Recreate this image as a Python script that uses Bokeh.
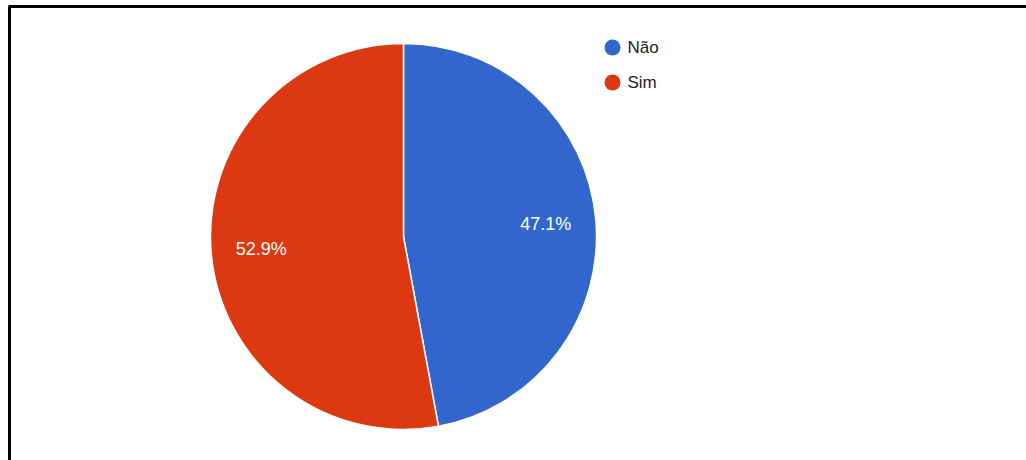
import math
from bokeh.plotting import figure
from bokeh.models import Range1d, ColumnDataSource
from bokeh.core.properties import value
from bokeh.embed import file_html
from bokeh.resources import INLINE

categories = ["Não", "Sim"]
percentages = [47.1, 52.9]
colors = ["#3366cc", "#dc3912"]
label_texts = ["47.1%", "52.9%"]

W, H = 1026, 460
cx, cy, R = 403, H - 236, 193
label_r = 0.74 * R

total = sum(percentages)
starts, ends, lx, ly = [], [], [], []
acc = 0.0
for v in percentages:
    a0 = math.pi / 2 - 2 * math.pi * acc / total
    a1 = math.pi / 2 - 2 * math.pi * (acc + v) / total
    starts.append(a0)
    ends.append(a1)
    mid = (a0 + a1) / 2
    lx.append(cx + label_r * math.cos(mid))
    ly.append(cy + label_r * math.sin(mid))
    acc += v

src = ColumnDataSource(dict(cat=categories, val=percentages, color=colors,
                            start=starts, end=ends, lx=lx, ly=ly, txt=label_texts))

p = figure(width=W, height=H, output_backend="svg", toolbar_location=None,
           x_range=Range1d(0, W), y_range=Range1d(0, H), min_border=0)
p.axis.visible = False
p.grid.visible = False
p.outline_line_color = None
p.background_fill_color = "white"
p.border_fill_color = "white"

# frame lines (left and top)
p.segment(x0=[9, 8], y0=[0, H - 6], x1=[9, W], y1=[H - 6, H - 6], line_color="black", line_width=3)

p.wedge(x=cx, y=cy, radius=R, start_angle="start", end_angle="end", direction="clock",
        fill_color="color", line_color="white", line_width=1.5, source=src)

p.text(x="lx", y="ly", text="txt", source=src, text_color="white",
       text_font=value("Liberation Sans"), text_font_size="18px",
       text_align="center", text_baseline="middle")

# legend
leg_y = [H - 47, H - 82]
p.scatter(x=[612, 612], y=leg_y, size=16, marker="circle", fill_color=colors, line_color=None)
p.text(x=[627, 627], y=leg_y, text=categories, text_color="#222222",
       text_font=value("Liberation Sans"), text_font_size="17px",
       text_align="left", text_baseline="middle")

open("out.html", "w").write(file_html(p, INLINE))
